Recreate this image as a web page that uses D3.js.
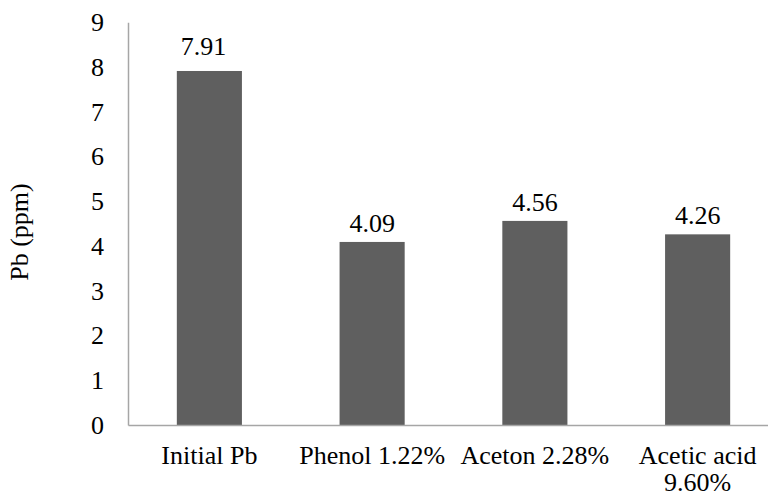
<!DOCTYPE html>
<html>
<head>
<meta charset="utf-8">
<script src="https://cdn.jsdelivr.net/npm/d3@7"></script>
<style>
  html, body { margin: 0; padding: 0; background: #fff; }
</style>
</head>
<body>
<svg id="chart" width="768" height="497"></svg>
<script>
// Pb concentration after each treatment
const categories = ["Initial Pb", "Phenol 1.22%", "Aceton 2.28%", "Acetic acid\n9.60%"];
const values = [7.91, 4.09, 4.56, 4.26];
const yTicks = [0, 1, 2, 3, 4, 5, 6, 7, 8, 9];
const yLabel = "Pb (ppm)";

(function draw() {
  const svg = d3.select("#chart");
  const W = 768, H = 497;
  const mLeft = 128, mRight = 779, mTop = 22.2, mBottom = 425;
  const fontSize = 26;
  const serif = "\"Liberation Serif\"";
  // the first data label sits a little up and to the left of its bar
  const labelShift = (i) => i === 0 ? { dx: -6, dy: -6 } : { dx: 0, dy: 0 };

  const x = d3.scaleBand().domain(categories).range([mLeft, mRight]).paddingInner(0.6).paddingOuter(0.3);
  const y = d3.scaleLinear().domain([0, 9]).range([mBottom, mTop]);

  svg.append("defs").append("clipPath").attr("id", "clip")
    .append("rect").attr("x", 0).attr("y", 0).attr("width", W).attr("height", H);

  const g = svg.append("g").attr("clip-path", "url(#clip)");

  // bars
  g.selectAll("rect.bar").data(values).join("rect")
    .attr("class", "bar")
    .attr("x", (d, i) => x(categories[i]))
    .attr("width", x.bandwidth())
    .attr("y", d => y(d))
    .attr("height", d => y(0) - y(d))
    .attr("fill", "#5f5f5f");

  // value labels
  g.selectAll("text.val").data(values).join("text")
    .attr("class", "val")
    .attr("x", (d, i) => x(categories[i]) + x.bandwidth() / 2 + labelShift(i).dx)
    .attr("y", (d, i) => y(d) - 10 + labelShift(i).dy)
    .attr("text-anchor", "middle")
    .style("font-family", serif)
    .style("font-size", fontSize + "px")
    .attr("fill", "#000")
    .text(d => d.toFixed(2));

  // y axis
  const yAxis = d3.axisLeft(y).tickValues(yTicks).tickSize(0).tickPadding(24).tickFormat(d3.format("d"));
  const ya = g.append("g").attr("transform", `translate(${mLeft},0)`).call(yAxis);
  ya.select(".domain").attr("stroke", "#a6a6a6").attr("stroke-width", 1.5);
  ya.selectAll("text")
    .style("font-family", serif)
    .style("font-size", fontSize + "px")
    .attr("fill", "#000");

  // x axis
  const xAxis = d3.axisBottom(x).tickSize(0).tickPadding(0).tickFormat("");
  const xa = g.append("g").attr("transform", `translate(0,${mBottom})`).call(xAxis);
  xa.select(".domain").attr("stroke", "#a6a6a6").attr("stroke-width", 1.5);

  // category labels (multi-line where needed)
  g.selectAll("text.cat").data(categories).join("text")
    .attr("class", "cat")
    .attr("text-anchor", "middle")
    .style("font-family", serif)
    .style("font-size", fontSize + "px")
    .attr("fill", "#000")
    .each(function (d) {
      const t = d3.select(this);
      const cx = x(d) + x.bandwidth() / 2;
      d.split("\n").forEach((line, k) => {
        t.append("tspan").attr("x", cx).attr("y", mBottom + 39 + k * 27).text(line);
      });
    });

  // y axis title
  svg.append("text")
    .attr("transform", `translate(28,232) rotate(-90)`)
    .attr("text-anchor", "middle")
    .style("font-family", serif)
    .style("font-size", fontSize + "px")
    .attr("fill", "#000")
    .text(yLabel);
})();
</script>
</body>
</html>
